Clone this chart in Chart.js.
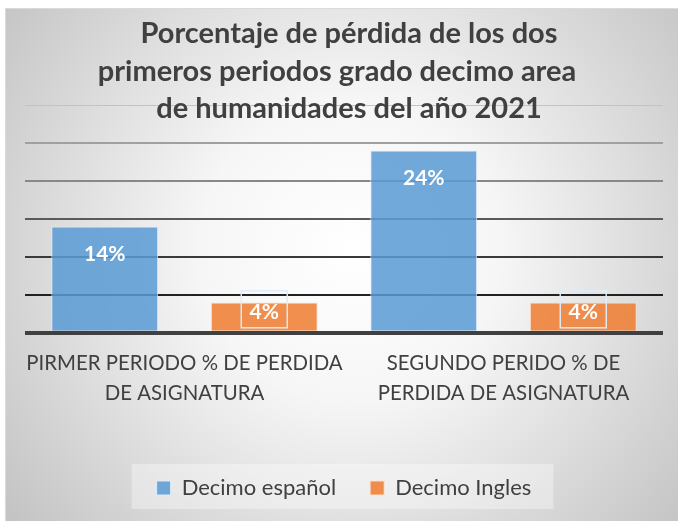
<!DOCTYPE html>
<html>
<head>
<meta charset="utf-8">
<script src="https://cdn.jsdelivr.net/npm/chart.js@4/dist/chart.umd.min.js"></script>
<style>
  html, body { margin: 0; padding: 0; background: #fff; }
  #wrap { width: 678px; height: 521px; position: relative; }
</style>
</head>
<body>
<div id="wrap"><canvas id="c" width="678" height="521"></canvas></div>
<script>
// ---- datos ----
const titleLines = ['Porcentaje de pérdida de los dos', 'primeros periodos grado decimo area', 'de humanidades del año 2021'];
const categories = [
  ['PIRMER PERIODO % DE PERDIDA', 'DE ASIGNATURA'],
  ['SEGUNDO PERIDO % DE', 'PERDIDA DE ASIGNATURA']
];
const seriesNames = ['Decimo español', 'Decimo Ingles'];
const espanol = [14, 24];
const ingles = [4, 4];
const yMax = 30, yStep = 5;

const FONT = 'Lato, "Open Sans", sans-serif';

// fondo con degradado y banda de la leyenda
const bgPlugin = {
  id: 'bg',
  beforeDraw(chart) {
    const ctx = chart.ctx;
    ctx.save();
    ctx.fillStyle = '#fff';
    ctx.fillRect(0, 0, 678, 521);
    const g = ctx.createRadialGradient(350, 250, 0, 350, 250, 430);
    g.addColorStop(0, '#ffffff');
    g.addColorStop(0.35, '#f6f6f6');
    g.addColorStop(1, '#c4c4c4');
    ctx.fillStyle = g;
    ctx.fillRect(5, 8, 673, 513);
    ctx.strokeStyle = '#dadada';
    ctx.lineWidth = 1;
    ctx.strokeRect(5.5, 8.5, 673, 513);
    // banda de leyenda
    const lg = chart.legend;
    if (lg && lg.legendHitBoxes.length) {
      const hb = lg.legendHitBoxes;
      const x0 = hb[0].left - 25, x1 = hb[hb.length - 1].left + hb[hb.length - 1].width + 22;
      const cy = hb[0].top + hb[0].height / 2;
      ctx.fillStyle = 'rgba(255,255,255,0.35)';
      ctx.fillRect(x0, cy - 24, x1 - x0, 45);
    }
    ctx.restore();
  }
};

// etiquetas de datos y título
const labelPlugin = {
  id: 'labels',
  afterDatasetsDraw(chart) {
    const ctx = chart.ctx;
    const base = chart.scales.y.getPixelForValue(0);
    ctx.save();
    ctx.font = 'bold 21px ' + FONT;
    ctx.textAlign = 'center';
    ctx.textBaseline = 'middle';
    chart.data.datasets.forEach((ds, di) => {
      chart.getDatasetMeta(di).data.forEach((bar, i) => {
        const h = base - bar.y;
        const txt = ds.data[i] + '%';
        let y = bar.y + 27;
        if (h < 50) {
          y = base - 22;
          ctx.strokeStyle = 'rgba(222,236,250,0.95)';
          ctx.lineWidth = 1.5;
          ctx.strokeRect(bar.x - 23, y - 20, 46, 37);
        }
        ctx.fillStyle = '#ffffff';
        ctx.fillText(txt, bar.x, y + 1);
      });
    });
    ctx.restore();
  },
  afterDraw(chart) {
    const ctx = chart.ctx;
    const centers = [349, 337, 349];
    ctx.save();
    ctx.font = 'bold 29px ' + FONT;
    ctx.fillStyle = '#404040';
    ctx.textAlign = 'center';
    ctx.textBaseline = 'alphabetic';
    titleLines.forEach((t, i) => ctx.fillText(t, centers[i], 43 + i * 37.5));
    ctx.restore();
  }
};

const gridColors = { 0: '#404040', 5: '#222222', 10: '#3a3a3a', 15: '#5a5a5a', 20: '#888888', 25: '#a0a0a0', 30: '#c2c2c2' };

new Chart(document.getElementById('c'), {
  type: 'bar',
  data: {
    labels: categories,
    datasets: [
      { label: seriesNames[0], data: espanol, backgroundColor: 'rgba(91,155,213,0.86)', borderColor: 'rgba(225,238,250,0.9)', borderWidth: 1 },
      { label: seriesNames[1], data: ingles, backgroundColor: 'rgba(237,125,49,0.86)', borderColor: 'rgba(252,225,205,0.9)', borderWidth: 1 }
    ]
  },
  options: {
    responsive: false,
    animation: false,
    devicePixelRatio: 1,
    layout: { padding: { top: 105, left: 25, right: 15, bottom: 12 } },
    categoryPercentage: 1,
    barPercentage: 0.67,
    plugins: {
      title: { display: false },
      tooltip: { enabled: false },
      legend: {
        position: 'bottom',
        labels: {
          color: '#404040',
          font: { family: FONT, size: 22 },
          boxWidth: 14,
          boxHeight: 14,
          padding: 34
        }
      }
    },
    scales: {
      x: {
        grid: { display: false },
        border: { display: false },
        ticks: {
          color: '#404040',
          font: { family: FONT, size: 20.4, lineHeight: 1.5 },
          padding: 7,
          maxRotation: 0,
          autoSkip: false
        },
        afterFit(axis) { axis.height += 27; }
      },
      y: {
        min: 0,
        max: yMax,
        ticks: { display: false, stepSize: yStep },
        border: { display: false },
        grid: {
          drawTicks: false,
          color: c => gridColors[c.tick.value] || '#888',
          lineWidth: c => c.tick.value === 0 ? 4 : (c.tick.value === yMax ? 1 : 2)
        }
      }
    }
  },
  plugins: [bgPlugin, labelPlugin]
});
</script>
</body>
</html>
